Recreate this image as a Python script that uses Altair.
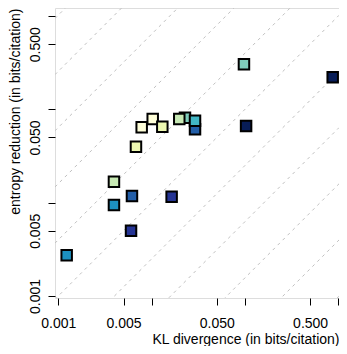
import altair as alt
import pandas as pd

# Data
kl_divergence = [0.0228, 0.0198, 0.0292, 0.0292, 0.01028, 0.00783, 0.01303, 0.0068,
                 0.00395, 0.00616, 0.00395, 0.0164, 0.00602, 0.00123, 0.0977, 0.103, 0.873]
entropy_reduction = [0.0815, 0.0789, 0.0612, 0.0756, 0.0789, 0.0643, 0.0653, 0.0398,
                     0.0168, 0.0118, 0.00944, 0.0116, 0.00501, 0.00273, 0.304, 0.0664, 0.221]
colors = ["#7fcdbb", "#c7e9b4", "#225ea8", "#41b6c4", "#ffffd9", "#ffffd9", "#edf8b1", "#edf8b1",
          "#c7e9b4", "#225ea8", "#1d91c0", "#253494", "#253494", "#1d91c0", "#7fcdbb", "#081d58", "#081d58"]

tick_values = [0.001, 0.005, 0.01, 0.05, 0.1, 0.5, 1]
ratio_powers = [-6, -5, -4, -3, -2, -1, 0, 1, 2, 3, 4, 5, 6]  # reference lines y = x * 4^k

x_domain = [0.000922, 1.020]
y_domain = [0.000952, 1.221]

pts = pd.DataFrame({"kl": kl_divergence, "ent": entropy_reduction, "col": colors,
                    "idx": list(range(len(colors)))})

rows = []
for k in ratio_powers:
    for xv in x_domain:
        rows.append({"k": k, "x": xv, "y": xv * 4 ** k})
guides = pd.DataFrame(rows)

label_expr = ("(datum.value == 0.01 || datum.value == 0.1 || datum.value == 1) ? '' : "
              "format(datum.value, '.3f')")

font = "Liberation Sans"
xscale = alt.Scale(type="log", domain=x_domain, nice=False, zero=False)
yscale = alt.Scale(type="log", domain=y_domain, nice=False, zero=False)

xaxis = alt.Axis(values=tick_values, labelExpr=label_expr, title="KL divergence (in bits/citation)",
                 grid=False, domain=False, tickColor="black", tickSize=7, tickWidth=1,
                 labelFont=font, labelFontSize=14, labelColor="black", labelPadding=11,
                 titleFont=font, titleFontSize=14, titleColor="black", titleFontWeight="normal",
                 titleAnchor="end", titlePadding=2, labelFlush=False, labelOverlap=False)
yaxis = alt.Axis(values=tick_values, labelExpr=label_expr, title="entropy reduction (in bits/citation)",
                 grid=False, domain=False, tickColor="black", tickSize=7, tickWidth=1,
                 labelFont=font, labelFontSize=14, labelColor="black", labelPadding=6,
                 labelAngle=-90, labelAlign="center", labelBaseline="bottom",
                 titleFont=font, titleFontSize=14, titleColor="black", titleFontWeight="normal",
                 titleAnchor="end", titlePadding=6, labelFlush=False, labelOverlap=False)

lines = alt.Chart(guides).mark_line(clip=True, color="#c0c0c0", strokeWidth=1, strokeDash=[3, 4]).encode(
    x=alt.X("x:Q", scale=xscale, axis=xaxis),
    y=alt.Y("y:Q", scale=yscale, axis=yaxis),
    detail="k:N",
)

squares = alt.Chart(pts).mark_square(size=110, filled=True, stroke="black", strokeWidth=2, opacity=1).encode(
    x=alt.X("kl:Q", scale=xscale),
    y=alt.Y("ent:Q", scale=yscale),
    color=alt.Color("col:N", scale=None),
    order=alt.Order("idx:Q"),
)

chart = alt.layer(lines, squares).properties(
    width=284, height=290,
    autosize=alt.AutoSizeParams(type="none"),
    padding={"left": 47, "top": 0, "right": 0, "bottom": 48},
).configure_view(stroke="black", strokeWidth=2).configure(background="white")

chart.save("out.html", embed_options={"renderer": "svg", "actions": False})
